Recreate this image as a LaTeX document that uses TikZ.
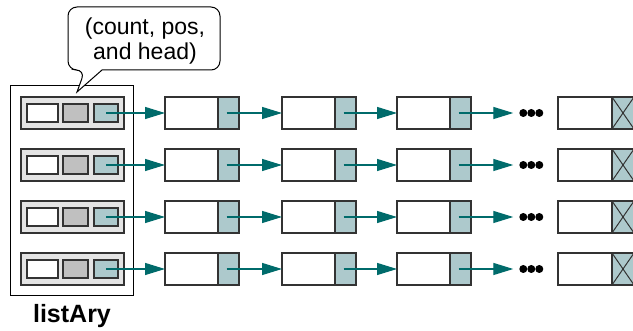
\documentclass[tikz,border=0pt]{standalone}
\usepackage{fontspec}
\setmainfont{Liberation Sans}
\usetikzlibrary{arrows.meta,calc}
\definecolor{tealfill}{HTML}{ADC9CC}
\definecolor{grayfill}{HTML}{C0C0C0}
\definecolor{rowfill}{HTML}{E4E4E4}
\definecolor{arrowteal}{HTML}{006B6B}
\definecolor{edgec}{HTML}{333333}
\begin{document}
\begin{tikzpicture}[x=1pt,y=-1pt,
  box/.style={draw=edgec,line width=1.2pt,inner sep=0pt,outer sep=0pt},
  datacell/.style={box,fill=white,minimum width=53pt,minimum height=32pt,anchor=west},
  ptrcell/.style={box,fill=tealfill,minimum width=21pt,minimum height=32pt,anchor=west},
  rowbox/.style={box,fill=rowfill,minimum width=103pt,minimum height=32pt},
  smallcell/.style={box,minimum height=18pt},
  link/.style={draw=arrowteal,line width=1.3pt,-{Triangle[length=20pt,width=12pt]}},
  dotgroup/.style={inner sep=0pt,outer sep=0pt,minimum width=24pt,minimum height=8pt}
]
\useasboundingbox (0,0) rectangle (633,331);

% listAry outer box
\node[box,draw=black,line width=1pt,fill=white,minimum width=123pt,minimum height=210pt] (listary) at (71.5,191) {};

\foreach \r/\y in {1/113,2/165,3/217,4/269}{
  \node[rowbox] (rb\r) at (72.5,\y) {};
  \node[smallcell,fill=white,minimum width=31pt] (w\r) at (42.5,\y) {};
  \node[smallcell,fill=grayfill,minimum width=25pt] (g\r) at (75.5,\y) {};
  \node[smallcell,fill=tealfill,minimum width=24pt] (t\r) at (106,\y) {};
  % list nodes
  \node[datacell] (d\r1) at (165,\y) {};
  \node[ptrcell] (p\r1) at (d\r1.east) {};
  \node[datacell] (d\r2) at (282,\y) {};
  \node[ptrcell] (p\r2) at (d\r2.east) {};
  \node[datacell] (d\r3) at (397,\y) {};
  \node[ptrcell] (p\r3) at (d\r3.east) {};
  \node[datacell,minimum width=54pt] (d\r4) at (558,\y) {};
  \node[ptrcell,minimum width=22pt] (p\r4) at (d\r4.east) {};
  \draw[edgec,line width=1pt] (p\r4.north west) -- (p\r4.south east)
                              (p\r4.south west) -- (p\r4.north east);
  % dots
  \node[dotgroup] (e\r) at (531.3,\y) {};
  \fill ($(e\r.center)+(-8,0)$) circle (4pt);
  \fill (e\r.center) circle (4pt);
  \fill ($(e\r.center)+(8,0)$) circle (4pt);
  % links
  \draw[link] (t\r.center) -- (d\r1.west);
  \draw[link] ($(p\r1.center)+(-2,0)$) -- (d\r2.west);
  \draw[link] ($(p\r2.center)+(-2,0)$) -- (d\r3.west);
  \draw[link,shorten >=6pt] ($(p\r3.center)+(-2,0)$) -- (e\r.west);
}

% callout
\draw[line width=1pt,fill=white,rounded corners=9pt]
  (68,40) -- (68,70) -- (85,70) [sharp corners] -- (77,92) -- (102,70)
  [rounded corners=9pt] -- (220,70) -- (220,7) -- (68,7) -- cycle;
\node[font=\fontsize{23}{24.5}\selectfont,align=center,inner sep=0pt] (calltext) at (145,41) {(count, pos,\\and head)};

% label
\node[font=\bfseries\fontsize{25}{30}\selectfont,anchor=base,inner sep=0pt] (label) at (72,322.7) {listAry};
\end{tikzpicture}
\end{document}
